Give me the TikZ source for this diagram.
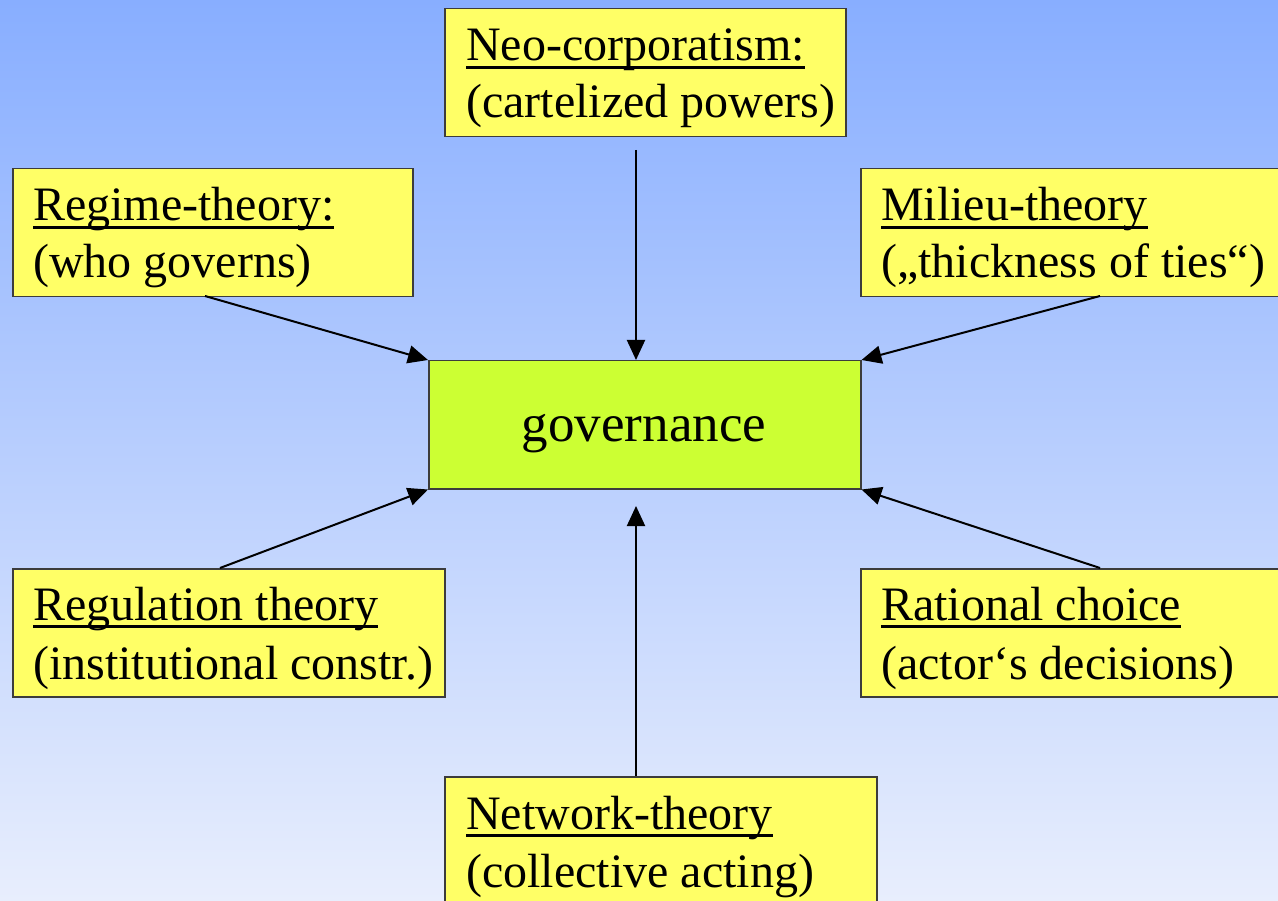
\documentclass[tikz,border=0pt]{standalone}
\usepackage{fontspec}
\setmainfont{Liberation Serif}
\newsavebox{\myulbox}
\newcommand{\myul}[1]{\sbox{\myulbox}{#1}\rlap{\rule[-8pt]{\wd\myulbox}{3pt}}\usebox{\myulbox}}
\usetikzlibrary{arrows.meta}
\definecolor{boxyellow}{RGB}{255,255,102}
\definecolor{govgreen}{RGB}{204,255,51}
\definecolor{bgtop}{RGB}{136,174,255}
\definecolor{bgbot}{RGB}{232,238,253}
\definecolor{edgegray}{RGB}{60,60,60}
\begin{document}
\begin{tikzpicture}[x=1pt,y=1pt,
  ybox/.style={draw=edgegray,line width=1.5pt,fill=boxyellow,anchor=north west,inner sep=0pt},
  gbox/.style={draw=edgegray,line width=1.5pt,fill=govgreen,anchor=north west,inner sep=0pt},
  txt/.style={anchor=base west,inner sep=0pt,font=\fontsize{48}{57.6}\selectfont},
  arr/.style={line width=2pt,-{Triangle[length=20pt,width=18pt]}}]
\useasboundingbox (0,0) rectangle (1278,-901);
\clip (0,0) rectangle (1278,-901);
\shade[top color=bgtop,bottom color=bgbot] (0,0) rectangle (1278,-901);

% boxes
\node[ybox,minimum width=401pt,minimum height=128pt] (neo) at (444,-8) {};
\node[ybox,minimum width=400pt,minimum height=128pt] (regime) at (12,-168) {};
\node[ybox,minimum width=430pt,minimum height=128pt] (milieu) at (860,-168) {};
\node[gbox,minimum width=432pt,minimum height=128pt] (gov) at (428,-360) {};
\node[ybox,minimum width=432pt,minimum height=128pt] (regul) at (12,-568) {};
\node[ybox,minimum width=430pt,minimum height=128pt] (ratio) at (860,-568) {};
\node[ybox,minimum width=432pt,minimum height=160pt] (netw) at (444,-776) {};

% texts
\node[txt] (neo1) at (466,-61) {\myul{Neo-corporatism:}};
\node[txt] (neo2) at (466,-118) {(cartelized powers)};
\node[txt] (reg1) at (33,-221) {\myul{Regime-theory:}};
\node[txt] (reg2) at (33,-278) {(who governs)};
\node[txt] (mil1) at (881,-221) {\myul{Milieu-theory}};
\node[txt] (mil2) at (881,-278) {(„thickness of ties“)};
\node[txt,anchor=base,font=\fontsize{53}{63}\selectfont] (govt) at (644,-442) {governance};
\node[txt] (rgl1) at (33,-620) {\myul{Regulation theory}};
\node[txt] (rgl2) at (33,-679) {(institutional constr.)};
\node[txt] (rat1) at (881,-620) {\myul{Rational choice}};
\node[txt] (rat2) at (881,-679) {(actor‘s decisions)};
\node[txt] (net1) at (466,-829) {\myul{Network-theory}};
\node[txt] (net2) at (466,-887) {(collective acting)};

% connector end points
\coordinate (neoA) at (636,-150);
\coordinate (regA) at (205,-296);
\coordinate (milA) at (1100,-296);
\coordinate (rglA) at (220,-568);
\coordinate (ratA) at (1100,-568);
\coordinate (netA) at (636,-776);
\coordinate (netB) at (636,-506);

% connectors
\draw[arr] (neoA) -- (neoA |- gov.north);
\draw[arr] (regA) -- (gov.north west);
\draw[arr] (milA) -- (gov.north east);
\draw[arr] (rglA) -- (gov.south west);
\draw[arr] (ratA) -- (gov.south east);
\draw[arr] (netA) -- (netB);
\end{tikzpicture}
\end{document}
